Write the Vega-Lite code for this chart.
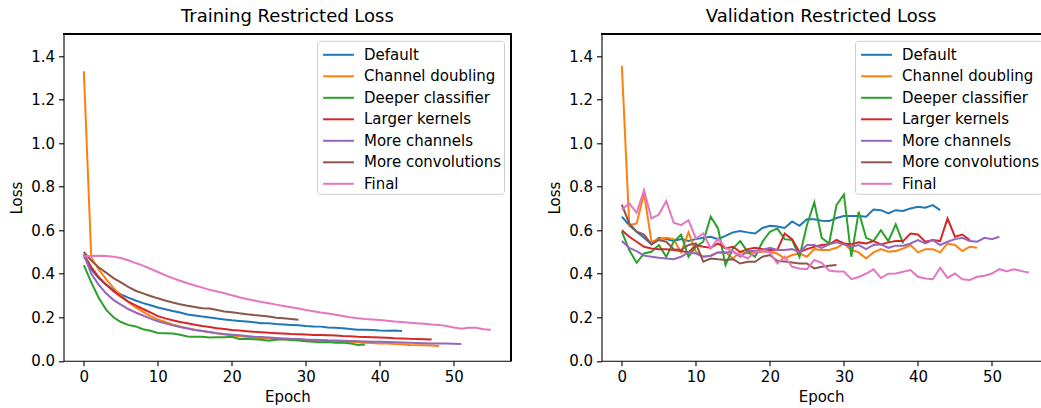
{
"$schema":"https://vega.github.io/schema/vega-lite/v6.json",
"autosize":{"type":"pad","resize":false},
"padding":{"left":9.5,"top":7.3,"right":0,"bottom":4},
"bounds":"flush",
"spacing":90,
"config":{
"font":"DejaVu Sans",
"view":{"stroke":null},
"axis":{"grid":false,"labelFont":"DejaVu Sans","labelFontSize":15,"labelColor":"#000000","titleFont":"DejaVu Sans","titleFontSize":15,"titleFontWeight":"normal","titleColor":"#000000","tickColor":"#000000","tickSize":5,"tickWidth":1.1,"domainColor":"#000000","domainWidth":1.1,"labelPadding":4},
"axisX":{"titlePadding":5},
"axisY":{"titlePadding":6},
"legend":{"orient":"none","legendX":253.5,"legendY":6.5,"fillColor":"rgba(255,255,255,0.8)","strokeColor":"#cccccc","cornerRadius":3,"padding":2,"symbolType":"M-1.4,0H1.4","symbolStrokeWidth":2,"symbolSize":484,"symbolOffset":7.5,"labelFont":"DejaVu Sans","labelFontSize":15,"labelColor":"#000000","rowPadding":1.5,"labelOffset":13.5,"title":null},
"title":{"font":"DejaVu Sans","fontSize":18,"fontWeight":"normal","color":"#000000","frame":"group","anchor":"middle","offset":7.5,"baseline":"alphabetic"}
},
"resolve":{"scale":{"color":"independent"},"legend":{"color":"independent"}},
"datasets":{
"train":[
{"model":"Default","epoch":0,"loss":0.48},{"model":"Default","epoch":1,"loss":0.42},{"model":"Default","epoch":2,"loss":0.38},{"model":"Default","epoch":3,"loss":0.35},{"model":"Default","epoch":4,"loss":0.325},{"model":"Default","epoch":5,"loss":0.305},{"model":"Default","epoch":6,"loss":0.29},{"model":"Default","epoch":7,"loss":0.277},{"model":"Default","epoch":8,"loss":0.265},{"model":"Default","epoch":9,"loss":0.255},
{"model":"Default","epoch":10,"loss":0.245},{"model":"Default","epoch":11,"loss":0.237},{"model":"Default","epoch":12,"loss":0.229},{"model":"Default","epoch":13,"loss":0.222},{"model":"Default","epoch":14,"loss":0.213},{"model":"Default","epoch":15,"loss":0.208},{"model":"Default","epoch":16,"loss":0.203},{"model":"Default","epoch":17,"loss":0.199},{"model":"Default","epoch":18,"loss":0.194},{"model":"Default","epoch":19,"loss":0.19},
{"model":"Default","epoch":20,"loss":0.186},{"model":"Default","epoch":21,"loss":0.183},{"model":"Default","epoch":22,"loss":0.18},{"model":"Default","epoch":23,"loss":0.177},{"model":"Default","epoch":24,"loss":0.173},{"model":"Default","epoch":25,"loss":0.172},{"model":"Default","epoch":26,"loss":0.169},{"model":"Default","epoch":27,"loss":0.167},{"model":"Default","epoch":28,"loss":0.165},{"model":"Default","epoch":29,"loss":0.163},
{"model":"Default","epoch":30,"loss":0.16},{"model":"Default","epoch":31,"loss":0.158},{"model":"Default","epoch":32,"loss":0.157},{"model":"Default","epoch":33,"loss":0.153},{"model":"Default","epoch":34,"loss":0.152},{"model":"Default","epoch":35,"loss":0.149},{"model":"Default","epoch":36,"loss":0.146},{"model":"Default","epoch":37,"loss":0.143},{"model":"Default","epoch":38,"loss":0.143},{"model":"Default","epoch":39,"loss":0.141},
{"model":"Default","epoch":40,"loss":0.139},{"model":"Default","epoch":41,"loss":0.138},{"model":"Default","epoch":42,"loss":0.139},{"model":"Default","epoch":43,"loss":0.137},
{"model":"Channel doubling","epoch":0,"loss":1.33},{"model":"Channel doubling","epoch":1,"loss":0.475},{"model":"Channel doubling","epoch":2,"loss":0.42},{"model":"Channel doubling","epoch":3,"loss":0.375},{"model":"Channel doubling","epoch":4,"loss":0.335},{"model":"Channel doubling","epoch":5,"loss":0.3},{"model":"Channel doubling","epoch":6,"loss":0.27},{"model":"Channel doubling","epoch":7,"loss":0.245},{"model":"Channel doubling","epoch":8,"loss":0.225},{"model":"Channel doubling","epoch":9,"loss":0.205},
{"model":"Channel doubling","epoch":10,"loss":0.19},{"model":"Channel doubling","epoch":11,"loss":0.178},{"model":"Channel doubling","epoch":12,"loss":0.167},{"model":"Channel doubling","epoch":13,"loss":0.158},{"model":"Channel doubling","epoch":14,"loss":0.15},{"model":"Channel doubling","epoch":15,"loss":0.143},{"model":"Channel doubling","epoch":16,"loss":0.137},{"model":"Channel doubling","epoch":17,"loss":0.131},{"model":"Channel doubling","epoch":18,"loss":0.126},{"model":"Channel doubling","epoch":19,"loss":0.121},
{"model":"Channel doubling","epoch":20,"loss":0.117},{"model":"Channel doubling","epoch":21,"loss":0.113},{"model":"Channel doubling","epoch":22,"loss":0.11},{"model":"Channel doubling","epoch":23,"loss":0.107},{"model":"Channel doubling","epoch":24,"loss":0.104},{"model":"Channel doubling","epoch":25,"loss":0.102},{"model":"Channel doubling","epoch":26,"loss":0.1},{"model":"Channel doubling","epoch":27,"loss":0.099},{"model":"Channel doubling","epoch":28,"loss":0.097},{"model":"Channel doubling","epoch":29,"loss":0.096},
{"model":"Channel doubling","epoch":30,"loss":0.095},{"model":"Channel doubling","epoch":31,"loss":0.094},{"model":"Channel doubling","epoch":32,"loss":0.093},{"model":"Channel doubling","epoch":33,"loss":0.091},{"model":"Channel doubling","epoch":34,"loss":0.09},{"model":"Channel doubling","epoch":35,"loss":0.088},{"model":"Channel doubling","epoch":36,"loss":0.087},{"model":"Channel doubling","epoch":37,"loss":0.085},{"model":"Channel doubling","epoch":38,"loss":0.083},{"model":"Channel doubling","epoch":39,"loss":0.082},
{"model":"Channel doubling","epoch":40,"loss":0.08},{"model":"Channel doubling","epoch":41,"loss":0.079},{"model":"Channel doubling","epoch":42,"loss":0.077},{"model":"Channel doubling","epoch":43,"loss":0.076},{"model":"Channel doubling","epoch":44,"loss":0.073},{"model":"Channel doubling","epoch":45,"loss":0.072},{"model":"Channel doubling","epoch":46,"loss":0.071},{"model":"Channel doubling","epoch":47,"loss":0.07},{"model":"Channel doubling","epoch":48,"loss":0.068},
{"model":"Deeper classifier","epoch":0,"loss":0.44},{"model":"Deeper classifier","epoch":1,"loss":0.36},{"model":"Deeper classifier","epoch":2,"loss":0.29},{"model":"Deeper classifier","epoch":3,"loss":0.235},{"model":"Deeper classifier","epoch":4,"loss":0.2},{"model":"Deeper classifier","epoch":5,"loss":0.178},{"model":"Deeper classifier","epoch":6,"loss":0.165},{"model":"Deeper classifier","epoch":7,"loss":0.158},{"model":"Deeper classifier","epoch":8,"loss":0.145},{"model":"Deeper classifier","epoch":9,"loss":0.138},
{"model":"Deeper classifier","epoch":10,"loss":0.128},{"model":"Deeper classifier","epoch":11,"loss":0.127},{"model":"Deeper classifier","epoch":12,"loss":0.125},{"model":"Deeper classifier","epoch":13,"loss":0.12},{"model":"Deeper classifier","epoch":14,"loss":0.112},{"model":"Deeper classifier","epoch":15,"loss":0.11},{"model":"Deeper classifier","epoch":16,"loss":0.111},{"model":"Deeper classifier","epoch":17,"loss":0.107},{"model":"Deeper classifier","epoch":18,"loss":0.108},{"model":"Deeper classifier","epoch":19,"loss":0.108},
{"model":"Deeper classifier","epoch":20,"loss":0.11},{"model":"Deeper classifier","epoch":21,"loss":0.1},{"model":"Deeper classifier","epoch":22,"loss":0.1},{"model":"Deeper classifier","epoch":23,"loss":0.099},{"model":"Deeper classifier","epoch":24,"loss":0.097},{"model":"Deeper classifier","epoch":25,"loss":0.092},{"model":"Deeper classifier","epoch":26,"loss":0.097},{"model":"Deeper classifier","epoch":27,"loss":0.099},{"model":"Deeper classifier","epoch":28,"loss":0.095},{"model":"Deeper classifier","epoch":29,"loss":0.093},
{"model":"Deeper classifier","epoch":30,"loss":0.09},{"model":"Deeper classifier","epoch":31,"loss":0.087},{"model":"Deeper classifier","epoch":32,"loss":0.085},{"model":"Deeper classifier","epoch":33,"loss":0.086},{"model":"Deeper classifier","epoch":34,"loss":0.083},{"model":"Deeper classifier","epoch":35,"loss":0.084},{"model":"Deeper classifier","epoch":36,"loss":0.08},{"model":"Deeper classifier","epoch":37,"loss":0.073},{"model":"Deeper classifier","epoch":38,"loss":0.075},
{"model":"Larger kernels","epoch":0,"loss":0.49},{"model":"Larger kernels","epoch":1,"loss":0.43},{"model":"Larger kernels","epoch":2,"loss":0.385},{"model":"Larger kernels","epoch":3,"loss":0.35},{"model":"Larger kernels","epoch":4,"loss":0.32},{"model":"Larger kernels","epoch":5,"loss":0.295},{"model":"Larger kernels","epoch":6,"loss":0.272},{"model":"Larger kernels","epoch":7,"loss":0.255},{"model":"Larger kernels","epoch":8,"loss":0.238},{"model":"Larger kernels","epoch":9,"loss":0.222},
{"model":"Larger kernels","epoch":10,"loss":0.205},{"model":"Larger kernels","epoch":11,"loss":0.195},{"model":"Larger kernels","epoch":12,"loss":0.186},{"model":"Larger kernels","epoch":13,"loss":0.178},{"model":"Larger kernels","epoch":14,"loss":0.172},{"model":"Larger kernels","epoch":15,"loss":0.166},{"model":"Larger kernels","epoch":16,"loss":0.16},{"model":"Larger kernels","epoch":17,"loss":0.155},{"model":"Larger kernels","epoch":18,"loss":0.15},{"model":"Larger kernels","epoch":19,"loss":0.146},
{"model":"Larger kernels","epoch":20,"loss":0.142},{"model":"Larger kernels","epoch":21,"loss":0.139},{"model":"Larger kernels","epoch":22,"loss":0.136},{"model":"Larger kernels","epoch":23,"loss":0.133},{"model":"Larger kernels","epoch":24,"loss":0.131},{"model":"Larger kernels","epoch":25,"loss":0.129},{"model":"Larger kernels","epoch":26,"loss":0.127},{"model":"Larger kernels","epoch":27,"loss":0.125},{"model":"Larger kernels","epoch":28,"loss":0.123},{"model":"Larger kernels","epoch":29,"loss":0.122},
{"model":"Larger kernels","epoch":30,"loss":0.121},{"model":"Larger kernels","epoch":31,"loss":0.119},{"model":"Larger kernels","epoch":32,"loss":0.118},{"model":"Larger kernels","epoch":33,"loss":0.117},{"model":"Larger kernels","epoch":34,"loss":0.116},{"model":"Larger kernels","epoch":35,"loss":0.114},{"model":"Larger kernels","epoch":36,"loss":0.113},{"model":"Larger kernels","epoch":37,"loss":0.11},{"model":"Larger kernels","epoch":38,"loss":0.109},{"model":"Larger kernels","epoch":39,"loss":0.108},
{"model":"Larger kernels","epoch":40,"loss":0.107},{"model":"Larger kernels","epoch":41,"loss":0.106},{"model":"Larger kernels","epoch":42,"loss":0.104},{"model":"Larger kernels","epoch":43,"loss":0.103},{"model":"Larger kernels","epoch":44,"loss":0.101},{"model":"Larger kernels","epoch":45,"loss":0.1},{"model":"Larger kernels","epoch":46,"loss":0.099},{"model":"Larger kernels","epoch":47,"loss":0.098},
{"model":"More channels","epoch":0,"loss":0.49},{"model":"More channels","epoch":1,"loss":0.4},{"model":"More channels","epoch":2,"loss":0.35},{"model":"More channels","epoch":3,"loss":0.31},{"model":"More channels","epoch":4,"loss":0.28},{"model":"More channels","epoch":5,"loss":0.258},{"model":"More channels","epoch":6,"loss":0.238},{"model":"More channels","epoch":7,"loss":0.222},{"model":"More channels","epoch":8,"loss":0.208},{"model":"More channels","epoch":9,"loss":0.194},
{"model":"More channels","epoch":10,"loss":0.182},{"model":"More channels","epoch":11,"loss":0.172},{"model":"More channels","epoch":12,"loss":0.163},{"model":"More channels","epoch":13,"loss":0.155},{"model":"More channels","epoch":14,"loss":0.148},{"model":"More channels","epoch":15,"loss":0.142},{"model":"More channels","epoch":16,"loss":0.137},{"model":"More channels","epoch":17,"loss":0.132},{"model":"More channels","epoch":18,"loss":0.127},{"model":"More channels","epoch":19,"loss":0.123},
{"model":"More channels","epoch":20,"loss":0.12},{"model":"More channels","epoch":21,"loss":0.117},{"model":"More channels","epoch":22,"loss":0.114},{"model":"More channels","epoch":23,"loss":0.111},{"model":"More channels","epoch":24,"loss":0.109},{"model":"More channels","epoch":25,"loss":0.107},{"model":"More channels","epoch":26,"loss":0.105},{"model":"More channels","epoch":27,"loss":0.103},{"model":"More channels","epoch":28,"loss":0.101},{"model":"More channels","epoch":29,"loss":0.1},
{"model":"More channels","epoch":30,"loss":0.098},{"model":"More channels","epoch":31,"loss":0.097},{"model":"More channels","epoch":32,"loss":0.096},{"model":"More channels","epoch":33,"loss":0.094},{"model":"More channels","epoch":34,"loss":0.093},{"model":"More channels","epoch":35,"loss":0.092},{"model":"More channels","epoch":36,"loss":0.091},{"model":"More channels","epoch":37,"loss":0.09},{"model":"More channels","epoch":38,"loss":0.089},{"model":"More channels","epoch":39,"loss":0.088},
{"model":"More channels","epoch":40,"loss":0.087},{"model":"More channels","epoch":41,"loss":0.086},{"model":"More channels","epoch":42,"loss":0.085},{"model":"More channels","epoch":43,"loss":0.084},{"model":"More channels","epoch":44,"loss":0.083},{"model":"More channels","epoch":45,"loss":0.082},{"model":"More channels","epoch":46,"loss":0.081},{"model":"More channels","epoch":47,"loss":0.08},{"model":"More channels","epoch":48,"loss":0.08},{"model":"More channels","epoch":49,"loss":0.079},
{"model":"More channels","epoch":50,"loss":0.078},{"model":"More channels","epoch":51,"loss":0.077},
{"model":"More convolutions","epoch":0,"loss":0.5},{"model":"More convolutions","epoch":1,"loss":0.46},{"model":"More convolutions","epoch":2,"loss":0.43},{"model":"More convolutions","epoch":3,"loss":0.405},{"model":"More convolutions","epoch":4,"loss":0.38},{"model":"More convolutions","epoch":5,"loss":0.36},{"model":"More convolutions","epoch":6,"loss":0.34},{"model":"More convolutions","epoch":7,"loss":0.322},{"model":"More convolutions","epoch":8,"loss":0.31},{"model":"More convolutions","epoch":9,"loss":0.298},
{"model":"More convolutions","epoch":10,"loss":0.287},{"model":"More convolutions","epoch":11,"loss":0.277},{"model":"More convolutions","epoch":12,"loss":0.268},{"model":"More convolutions","epoch":13,"loss":0.26},{"model":"More convolutions","epoch":14,"loss":0.253},{"model":"More convolutions","epoch":15,"loss":0.247},{"model":"More convolutions","epoch":16,"loss":0.241},{"model":"More convolutions","epoch":17,"loss":0.24},{"model":"More convolutions","epoch":18,"loss":0.233},{"model":"More convolutions","epoch":19,"loss":0.227},
{"model":"More convolutions","epoch":20,"loss":0.223},{"model":"More convolutions","epoch":21,"loss":0.218},{"model":"More convolutions","epoch":22,"loss":0.214},{"model":"More convolutions","epoch":23,"loss":0.21},{"model":"More convolutions","epoch":24,"loss":0.207},{"model":"More convolutions","epoch":25,"loss":0.203},{"model":"More convolutions","epoch":26,"loss":0.198},{"model":"More convolutions","epoch":27,"loss":0.195},{"model":"More convolutions","epoch":28,"loss":0.192},{"model":"More convolutions","epoch":29,"loss":0.189},
{"model":"Final","epoch":0,"loss":0.48},{"model":"Final","epoch":1,"loss":0.482},{"model":"Final","epoch":2,"loss":0.483},{"model":"Final","epoch":3,"loss":0.482},{"model":"Final","epoch":4,"loss":0.478},{"model":"Final","epoch":5,"loss":0.472},{"model":"Final","epoch":6,"loss":0.462},{"model":"Final","epoch":7,"loss":0.449},{"model":"Final","epoch":8,"loss":0.437},{"model":"Final","epoch":9,"loss":0.423},
{"model":"Final","epoch":10,"loss":0.408},{"model":"Final","epoch":11,"loss":0.393},{"model":"Final","epoch":12,"loss":0.38},{"model":"Final","epoch":13,"loss":0.368},{"model":"Final","epoch":14,"loss":0.356},{"model":"Final","epoch":15,"loss":0.346},{"model":"Final","epoch":16,"loss":0.336},{"model":"Final","epoch":17,"loss":0.326},{"model":"Final","epoch":18,"loss":0.318},{"model":"Final","epoch":19,"loss":0.31},
{"model":"Final","epoch":20,"loss":0.301},{"model":"Final","epoch":21,"loss":0.292},{"model":"Final","epoch":22,"loss":0.284},{"model":"Final","epoch":23,"loss":0.277},{"model":"Final","epoch":24,"loss":0.27},{"model":"Final","epoch":25,"loss":0.264},{"model":"Final","epoch":26,"loss":0.258},{"model":"Final","epoch":27,"loss":0.252},{"model":"Final","epoch":28,"loss":0.246},{"model":"Final","epoch":29,"loss":0.24},
{"model":"Final","epoch":30,"loss":0.233},{"model":"Final","epoch":31,"loss":0.228},{"model":"Final","epoch":32,"loss":0.222},{"model":"Final","epoch":33,"loss":0.217},{"model":"Final","epoch":34,"loss":0.212},{"model":"Final","epoch":35,"loss":0.206},{"model":"Final","epoch":36,"loss":0.2},{"model":"Final","epoch":37,"loss":0.196},{"model":"Final","epoch":38,"loss":0.192},{"model":"Final","epoch":39,"loss":0.19},
{"model":"Final","epoch":40,"loss":0.187},{"model":"Final","epoch":41,"loss":0.184},{"model":"Final","epoch":42,"loss":0.18},{"model":"Final","epoch":43,"loss":0.178},{"model":"Final","epoch":44,"loss":0.175},{"model":"Final","epoch":45,"loss":0.172},{"model":"Final","epoch":46,"loss":0.17},{"model":"Final","epoch":47,"loss":0.167},{"model":"Final","epoch":48,"loss":0.165},{"model":"Final","epoch":49,"loss":0.16},
{"model":"Final","epoch":50,"loss":0.153},{"model":"Final","epoch":51,"loss":0.147},{"model":"Final","epoch":52,"loss":0.152},{"model":"Final","epoch":53,"loss":0.152},{"model":"Final","epoch":54,"loss":0.145},{"model":"Final","epoch":55,"loss":0.143}
],
"val":[
{"model":"Default","epoch":0,"loss":0.662},{"model":"Default","epoch":1,"loss":0.623},{"model":"Default","epoch":2,"loss":0.593},{"model":"Default","epoch":3,"loss":0.565},{"model":"Default","epoch":4,"loss":0.535},{"model":"Default","epoch":5,"loss":0.565},{"model":"Default","epoch":6,"loss":0.559},{"model":"Default","epoch":7,"loss":0.55},{"model":"Default","epoch":8,"loss":0.559},{"model":"Default","epoch":9,"loss":0.55},
{"model":"Default","epoch":10,"loss":0.559},{"model":"Default","epoch":11,"loss":0.565},{"model":"Default","epoch":12,"loss":0.57},{"model":"Default","epoch":13,"loss":0.559},{"model":"Default","epoch":14,"loss":0.574},{"model":"Default","epoch":15,"loss":0.59},{"model":"Default","epoch":16,"loss":0.596},{"model":"Default","epoch":17,"loss":0.59},{"model":"Default","epoch":18,"loss":0.585},{"model":"Default","epoch":19,"loss":0.61},
{"model":"Default","epoch":20,"loss":0.62},{"model":"Default","epoch":21,"loss":0.617},{"model":"Default","epoch":22,"loss":0.61},{"model":"Default","epoch":23,"loss":0.64},{"model":"Default","epoch":24,"loss":0.62},{"model":"Default","epoch":25,"loss":0.65},{"model":"Default","epoch":26,"loss":0.65},{"model":"Default","epoch":27,"loss":0.643},{"model":"Default","epoch":28,"loss":0.642},{"model":"Default","epoch":29,"loss":0.656},
{"model":"Default","epoch":30,"loss":0.665},{"model":"Default","epoch":31,"loss":0.665},{"model":"Default","epoch":32,"loss":0.665},{"model":"Default","epoch":33,"loss":0.662},{"model":"Default","epoch":34,"loss":0.695},{"model":"Default","epoch":35,"loss":0.692},{"model":"Default","epoch":36,"loss":0.677},{"model":"Default","epoch":37,"loss":0.692},{"model":"Default","epoch":38,"loss":0.688},{"model":"Default","epoch":39,"loss":0.7},
{"model":"Default","epoch":40,"loss":0.708},{"model":"Default","epoch":41,"loss":0.703},{"model":"Default","epoch":42,"loss":0.715},{"model":"Default","epoch":43,"loss":0.692},
{"model":"Channel doubling","epoch":0,"loss":1.354},{"model":"Channel doubling","epoch":1,"loss":0.623},{"model":"Channel doubling","epoch":2,"loss":0.631},{"model":"Channel doubling","epoch":3,"loss":0.769},{"model":"Channel doubling","epoch":4,"loss":0.547},{"model":"Channel doubling","epoch":5,"loss":0.559},{"model":"Channel doubling","epoch":6,"loss":0.565},{"model":"Channel doubling","epoch":7,"loss":0.559},{"model":"Channel doubling","epoch":8,"loss":0.498},{"model":"Channel doubling","epoch":9,"loss":0.59},
{"model":"Channel doubling","epoch":10,"loss":0.501},{"model":"Channel doubling","epoch":11,"loss":0.478},{"model":"Channel doubling","epoch":12,"loss":0.483},{"model":"Channel doubling","epoch":13,"loss":0.498},{"model":"Channel doubling","epoch":14,"loss":0.5},{"model":"Channel doubling","epoch":15,"loss":0.47},{"model":"Channel doubling","epoch":16,"loss":0.5},{"model":"Channel doubling","epoch":17,"loss":0.493},{"model":"Channel doubling","epoch":18,"loss":0.498},{"model":"Channel doubling","epoch":19,"loss":0.501},
{"model":"Channel doubling","epoch":20,"loss":0.501},{"model":"Channel doubling","epoch":21,"loss":0.493},{"model":"Channel doubling","epoch":22,"loss":0.47},{"model":"Channel doubling","epoch":23,"loss":0.486},{"model":"Channel doubling","epoch":24,"loss":0.493},{"model":"Channel doubling","epoch":25,"loss":0.478},{"model":"Channel doubling","epoch":26,"loss":0.513},{"model":"Channel doubling","epoch":27,"loss":0.509},{"model":"Channel doubling","epoch":28,"loss":0.509},{"model":"Channel doubling","epoch":29,"loss":0.519},
{"model":"Channel doubling","epoch":30,"loss":0.539},{"model":"Channel doubling","epoch":31,"loss":0.509},{"model":"Channel doubling","epoch":32,"loss":0.498},{"model":"Channel doubling","epoch":33,"loss":0.47},{"model":"Channel doubling","epoch":34,"loss":0.498},{"model":"Channel doubling","epoch":35,"loss":0.513},{"model":"Channel doubling","epoch":36,"loss":0.501},{"model":"Channel doubling","epoch":37,"loss":0.504},{"model":"Channel doubling","epoch":38,"loss":0.516},{"model":"Channel doubling","epoch":39,"loss":0.532},
{"model":"Channel doubling","epoch":40,"loss":0.498},{"model":"Channel doubling","epoch":41,"loss":0.513},{"model":"Channel doubling","epoch":42,"loss":0.513},{"model":"Channel doubling","epoch":43,"loss":0.498},{"model":"Channel doubling","epoch":44,"loss":0.539},{"model":"Channel doubling","epoch":45,"loss":0.532},{"model":"Channel doubling","epoch":46,"loss":0.504},{"model":"Channel doubling","epoch":47,"loss":0.524},{"model":"Channel doubling","epoch":48,"loss":0.519},
{"model":"Deeper classifier","epoch":0,"loss":0.593},{"model":"Deeper classifier","epoch":1,"loss":0.509},{"model":"Deeper classifier","epoch":2,"loss":0.45},{"model":"Deeper classifier","epoch":3,"loss":0.493},{"model":"Deeper classifier","epoch":4,"loss":0.501},{"model":"Deeper classifier","epoch":5,"loss":0.532},{"model":"Deeper classifier","epoch":6,"loss":0.478},{"model":"Deeper classifier","epoch":7,"loss":0.547},{"model":"Deeper classifier","epoch":8,"loss":0.58},{"model":"Deeper classifier","epoch":9,"loss":0.478},
{"model":"Deeper classifier","epoch":10,"loss":0.524},{"model":"Deeper classifier","epoch":11,"loss":0.547},{"model":"Deeper classifier","epoch":12,"loss":0.662},{"model":"Deeper classifier","epoch":13,"loss":0.608},{"model":"Deeper classifier","epoch":14,"loss":0.44},{"model":"Deeper classifier","epoch":15,"loss":0.516},{"model":"Deeper classifier","epoch":16,"loss":0.55},{"model":"Deeper classifier","epoch":17,"loss":0.5},{"model":"Deeper classifier","epoch":18,"loss":0.478},{"model":"Deeper classifier","epoch":19,"loss":0.547},
{"model":"Deeper classifier","epoch":20,"loss":0.593},{"model":"Deeper classifier","epoch":21,"loss":0.608},{"model":"Deeper classifier","epoch":22,"loss":0.559},{"model":"Deeper classifier","epoch":23,"loss":0.555},{"model":"Deeper classifier","epoch":24,"loss":0.478},{"model":"Deeper classifier","epoch":25,"loss":0.623},{"model":"Deeper classifier","epoch":26,"loss":0.728},{"model":"Deeper classifier","epoch":27,"loss":0.565},{"model":"Deeper classifier","epoch":28,"loss":0.539},{"model":"Deeper classifier","epoch":29,"loss":0.715},
{"model":"Deeper classifier","epoch":30,"loss":0.764},{"model":"Deeper classifier","epoch":31,"loss":0.478},{"model":"Deeper classifier","epoch":32,"loss":0.685},{"model":"Deeper classifier","epoch":33,"loss":0.565},{"model":"Deeper classifier","epoch":34,"loss":0.55},{"model":"Deeper classifier","epoch":35,"loss":0.6},{"model":"Deeper classifier","epoch":36,"loss":0.55},{"model":"Deeper classifier","epoch":37,"loss":0.627},{"model":"Deeper classifier","epoch":38,"loss":0.539},
{"model":"Larger kernels","epoch":0,"loss":0.6},{"model":"Larger kernels","epoch":1,"loss":0.57},{"model":"Larger kernels","epoch":2,"loss":0.547},{"model":"Larger kernels","epoch":3,"loss":0.524},{"model":"Larger kernels","epoch":4,"loss":0.516},{"model":"Larger kernels","epoch":5,"loss":0.513},{"model":"Larger kernels","epoch":6,"loss":0.513},{"model":"Larger kernels","epoch":7,"loss":0.509},{"model":"Larger kernels","epoch":8,"loss":0.504},{"model":"Larger kernels","epoch":9,"loss":0.498},
{"model":"Larger kernels","epoch":10,"loss":0.532},{"model":"Larger kernels","epoch":11,"loss":0.524},{"model":"Larger kernels","epoch":12,"loss":0.519},{"model":"Larger kernels","epoch":13,"loss":0.539},{"model":"Larger kernels","epoch":14,"loss":0.516},{"model":"Larger kernels","epoch":15,"loss":0.524},{"model":"Larger kernels","epoch":16,"loss":0.5},{"model":"Larger kernels","epoch":17,"loss":0.513},{"model":"Larger kernels","epoch":18,"loss":0.519},{"model":"Larger kernels","epoch":19,"loss":0.513},
{"model":"Larger kernels","epoch":20,"loss":0.509},{"model":"Larger kernels","epoch":21,"loss":0.51},{"model":"Larger kernels","epoch":22,"loss":0.585},{"model":"Larger kernels","epoch":23,"loss":0.559},{"model":"Larger kernels","epoch":24,"loss":0.5},{"model":"Larger kernels","epoch":25,"loss":0.513},{"model":"Larger kernels","epoch":26,"loss":0.524},{"model":"Larger kernels","epoch":27,"loss":0.532},{"model":"Larger kernels","epoch":28,"loss":0.535},{"model":"Larger kernels","epoch":29,"loss":0.555},
{"model":"Larger kernels","epoch":30,"loss":0.539},{"model":"Larger kernels","epoch":31,"loss":0.535},{"model":"Larger kernels","epoch":32,"loss":0.544},{"model":"Larger kernels","epoch":33,"loss":0.539},{"model":"Larger kernels","epoch":34,"loss":0.55},{"model":"Larger kernels","epoch":35,"loss":0.535},{"model":"Larger kernels","epoch":36,"loss":0.544},{"model":"Larger kernels","epoch":37,"loss":0.55},{"model":"Larger kernels","epoch":38,"loss":0.55},{"model":"Larger kernels","epoch":39,"loss":0.585},
{"model":"Larger kernels","epoch":40,"loss":0.58},{"model":"Larger kernels","epoch":41,"loss":0.547},{"model":"Larger kernels","epoch":42,"loss":0.555},{"model":"Larger kernels","epoch":43,"loss":0.55},{"model":"Larger kernels","epoch":44,"loss":0.654},{"model":"Larger kernels","epoch":45,"loss":0.57},{"model":"Larger kernels","epoch":46,"loss":0.58},{"model":"Larger kernels","epoch":47,"loss":0.555},
{"model":"More channels","epoch":0,"loss":0.55},{"model":"More channels","epoch":1,"loss":0.519},{"model":"More channels","epoch":2,"loss":0.504},{"model":"More channels","epoch":3,"loss":0.483},{"model":"More channels","epoch":4,"loss":0.478},{"model":"More channels","epoch":5,"loss":0.473},{"model":"More channels","epoch":6,"loss":0.47},{"model":"More channels","epoch":7,"loss":0.467},{"model":"More channels","epoch":8,"loss":0.478},{"model":"More channels","epoch":9,"loss":0.498},
{"model":"More channels","epoch":10,"loss":0.493},{"model":"More channels","epoch":11,"loss":0.478},{"model":"More channels","epoch":12,"loss":0.483},{"model":"More channels","epoch":13,"loss":0.498},{"model":"More channels","epoch":14,"loss":0.495},{"model":"More channels","epoch":15,"loss":0.504},{"model":"More channels","epoch":16,"loss":0.478},{"model":"More channels","epoch":17,"loss":0.504},{"model":"More channels","epoch":18,"loss":0.504},{"model":"More channels","epoch":19,"loss":0.509},
{"model":"More channels","epoch":20,"loss":0.519},{"model":"More channels","epoch":21,"loss":0.509},{"model":"More channels","epoch":22,"loss":0.509},{"model":"More channels","epoch":23,"loss":0.513},{"model":"More channels","epoch":24,"loss":0.498},{"model":"More channels","epoch":25,"loss":0.532},{"model":"More channels","epoch":26,"loss":0.532},{"model":"More channels","epoch":27,"loss":0.519},{"model":"More channels","epoch":28,"loss":0.535},{"model":"More channels","epoch":29,"loss":0.544},
{"model":"More channels","epoch":30,"loss":0.535},{"model":"More channels","epoch":31,"loss":0.524},{"model":"More channels","epoch":32,"loss":0.532},{"model":"More channels","epoch":33,"loss":0.513},{"model":"More channels","epoch":34,"loss":0.532},{"model":"More channels","epoch":35,"loss":0.535},{"model":"More channels","epoch":36,"loss":0.519},{"model":"More channels","epoch":37,"loss":0.529},{"model":"More channels","epoch":38,"loss":0.529},{"model":"More channels","epoch":39,"loss":0.539},
{"model":"More channels","epoch":40,"loss":0.555},{"model":"More channels","epoch":41,"loss":0.539},{"model":"More channels","epoch":42,"loss":0.555},{"model":"More channels","epoch":43,"loss":0.532},{"model":"More channels","epoch":44,"loss":0.547},{"model":"More channels","epoch":45,"loss":0.559},{"model":"More channels","epoch":46,"loss":0.565},{"model":"More channels","epoch":47,"loss":0.55},{"model":"More channels","epoch":48,"loss":0.547},{"model":"More channels","epoch":49,"loss":0.565},
{"model":"More channels","epoch":50,"loss":0.559},{"model":"More channels","epoch":51,"loss":0.57},
{"model":"More convolutions","epoch":0,"loss":0.718},{"model":"More convolutions","epoch":1,"loss":0.631},{"model":"More convolutions","epoch":2,"loss":0.593},{"model":"More convolutions","epoch":3,"loss":0.58},{"model":"More convolutions","epoch":4,"loss":0.535},{"model":"More convolutions","epoch":5,"loss":0.555},{"model":"More convolutions","epoch":6,"loss":0.547},{"model":"More convolutions","epoch":7,"loss":0.513},{"model":"More convolutions","epoch":8,"loss":0.509},{"model":"More convolutions","epoch":9,"loss":0.532},
{"model":"More convolutions","epoch":10,"loss":0.539},{"model":"More convolutions","epoch":11,"loss":0.455},{"model":"More convolutions","epoch":12,"loss":0.47},{"model":"More convolutions","epoch":13,"loss":0.466},{"model":"More convolutions","epoch":14,"loss":0.463},{"model":"More convolutions","epoch":15,"loss":0.467},{"model":"More convolutions","epoch":16,"loss":0.447},{"model":"More convolutions","epoch":17,"loss":0.455},{"model":"More convolutions","epoch":18,"loss":0.455},{"model":"More convolutions","epoch":19,"loss":0.478},
{"model":"More convolutions","epoch":20,"loss":0.486},{"model":"More convolutions","epoch":21,"loss":0.458},{"model":"More convolutions","epoch":22,"loss":0.456},{"model":"More convolutions","epoch":23,"loss":0.452},{"model":"More convolutions","epoch":24,"loss":0.447},{"model":"More convolutions","epoch":25,"loss":0.447},{"model":"More convolutions","epoch":26,"loss":0.424},{"model":"More convolutions","epoch":27,"loss":0.432},{"model":"More convolutions","epoch":28,"loss":0.437},{"model":"More convolutions","epoch":29,"loss":0.44},
{"model":"Final","epoch":0,"loss":0.695},{"model":"Final","epoch":1,"loss":0.723},{"model":"Final","epoch":2,"loss":0.68},{"model":"Final","epoch":3,"loss":0.784},{"model":"Final","epoch":4,"loss":0.654},{"model":"Final","epoch":5,"loss":0.672},{"model":"Final","epoch":6,"loss":0.734},{"model":"Final","epoch":7,"loss":0.634},{"model":"Final","epoch":8,"loss":0.623},{"model":"Final","epoch":9,"loss":0.646},
{"model":"Final","epoch":10,"loss":0.562},{"model":"Final","epoch":11,"loss":0.585},{"model":"Final","epoch":12,"loss":0.516},{"model":"Final","epoch":13,"loss":0.562},{"model":"Final","epoch":14,"loss":0.519},{"model":"Final","epoch":15,"loss":0.5},{"model":"Final","epoch":16,"loss":0.486},{"model":"Final","epoch":17,"loss":0.47},{"model":"Final","epoch":18,"loss":0.5},{"model":"Final","epoch":19,"loss":0.504},
{"model":"Final","epoch":20,"loss":0.498},{"model":"Final","epoch":21,"loss":0.447},{"model":"Final","epoch":22,"loss":0.478},{"model":"Final","epoch":23,"loss":0.432},{"model":"Final","epoch":24,"loss":0.424},{"model":"Final","epoch":25,"loss":0.421},{"model":"Final","epoch":26,"loss":0.463},{"model":"Final","epoch":27,"loss":0.45},{"model":"Final","epoch":28,"loss":0.415},{"model":"Final","epoch":29,"loss":0.41},
{"model":"Final","epoch":30,"loss":0.41},{"model":"Final","epoch":31,"loss":0.375},{"model":"Final","epoch":32,"loss":0.385},{"model":"Final","epoch":33,"loss":0.4},{"model":"Final","epoch":34,"loss":0.42},{"model":"Final","epoch":35,"loss":0.38},{"model":"Final","epoch":36,"loss":0.4},{"model":"Final","epoch":37,"loss":0.401},{"model":"Final","epoch":38,"loss":0.409},{"model":"Final","epoch":39,"loss":0.417},
{"model":"Final","epoch":40,"loss":0.386},{"model":"Final","epoch":41,"loss":0.378},{"model":"Final","epoch":42,"loss":0.375},{"model":"Final","epoch":43,"loss":0.427},{"model":"Final","epoch":44,"loss":0.381},{"model":"Final","epoch":45,"loss":0.401},{"model":"Final","epoch":46,"loss":0.375},{"model":"Final","epoch":47,"loss":0.371},{"model":"Final","epoch":48,"loss":0.386},{"model":"Final","epoch":49,"loss":0.391},
{"model":"Final","epoch":50,"loss":0.401},{"model":"Final","epoch":51,"loss":0.421},{"model":"Final","epoch":52,"loss":0.412},{"model":"Final","epoch":53,"loss":0.421},{"model":"Final","epoch":54,"loss":0.412},{"model":"Final","epoch":55,"loss":0.406}
]
},
"hconcat":[
{
"width":447.7,"height":326.5,
"title":{"text":"Training Restricted Loss"},
"data":{"name":"train"},
"layer":[
{"mark":{"type":"line","strokeWidth":2},
"encoding":{
"x":{"field":"epoch","type":"quantitative","title":"Epoch","scale":{"domain":[-2.75,57.75],"nice":false,"zero":false},"axis":{"values":[0,10,20,30,40,50]}},
"y":{"field":"loss","type":"quantitative","title":"Loss","scale":{"domain":[0,1.5],"nice":false,"zero":false},"axis":{"values":[0,0.2,0.4,0.6,0.8,1.0,1.2,1.4],"format":".1f"}},
"color":{"field":"model","type":"nominal","sort":null,"scale":{"domain":["Default","Channel doubling","Deeper classifier","Larger kernels","More channels","More convolutions","Final"],"range":["#1f77b4","#ff7f0e","#2ca02c","#d62728","#9467bd","#8c564b","#e377c2"]}}
}},
{"mark":{"type":"rule","color":"#000000","strokeWidth":1.1},
"encoding":{"y":{"datum":1.5,"type":"quantitative","title":"Loss","scale":{"domain":[0,1.5],"nice":false,"zero":false},"axis":{"values":[0,0.2,0.4,0.6,0.8,1.0,1.2,1.4],"format":".1f"}}}},
{"mark":{"type":"rule","color":"#000000","strokeWidth":1.1},
"encoding":{"x":{"datum":57.75,"type":"quantitative","title":"Epoch","scale":{"domain":[-2.75,57.75],"nice":false,"zero":false},"axis":{"values":[0,10,20,30,40,50]}}}}
]
},
{
"width":439.3,"height":326.5,
"title":{"text":"Validation Restricted Loss"},
"data":{"name":"val"},
"layer":[
{"mark":{"type":"line","strokeWidth":2},
"encoding":{
"x":{"field":"epoch","type":"quantitative","title":"Epoch","scale":{"domain":[-2.75,56.6],"nice":false,"zero":false},"axis":{"values":[0,10,20,30,40,50]}},
"y":{"field":"loss","type":"quantitative","title":"Loss","scale":{"domain":[0,1.5],"nice":false,"zero":false},"axis":{"values":[0,0.2,0.4,0.6,0.8,1.0,1.2,1.4],"format":".1f"}},
"color":{"field":"model","type":"nominal","sort":null,"scale":{"domain":["Default","Channel doubling","Deeper classifier","Larger kernels","More channels","More convolutions","Final"],"range":["#1f77b4","#ff7f0e","#2ca02c","#d62728","#9467bd","#8c564b","#e377c2"]}}
}},
{"mark":{"type":"rule","color":"#000000","strokeWidth":1.1},
"encoding":{"y":{"datum":1.5,"type":"quantitative","title":"Loss","scale":{"domain":[0,1.5],"nice":false,"zero":false},"axis":{"values":[0,0.2,0.4,0.6,0.8,1.0,1.2,1.4],"format":".1f"}}}}
]
}
]
}
